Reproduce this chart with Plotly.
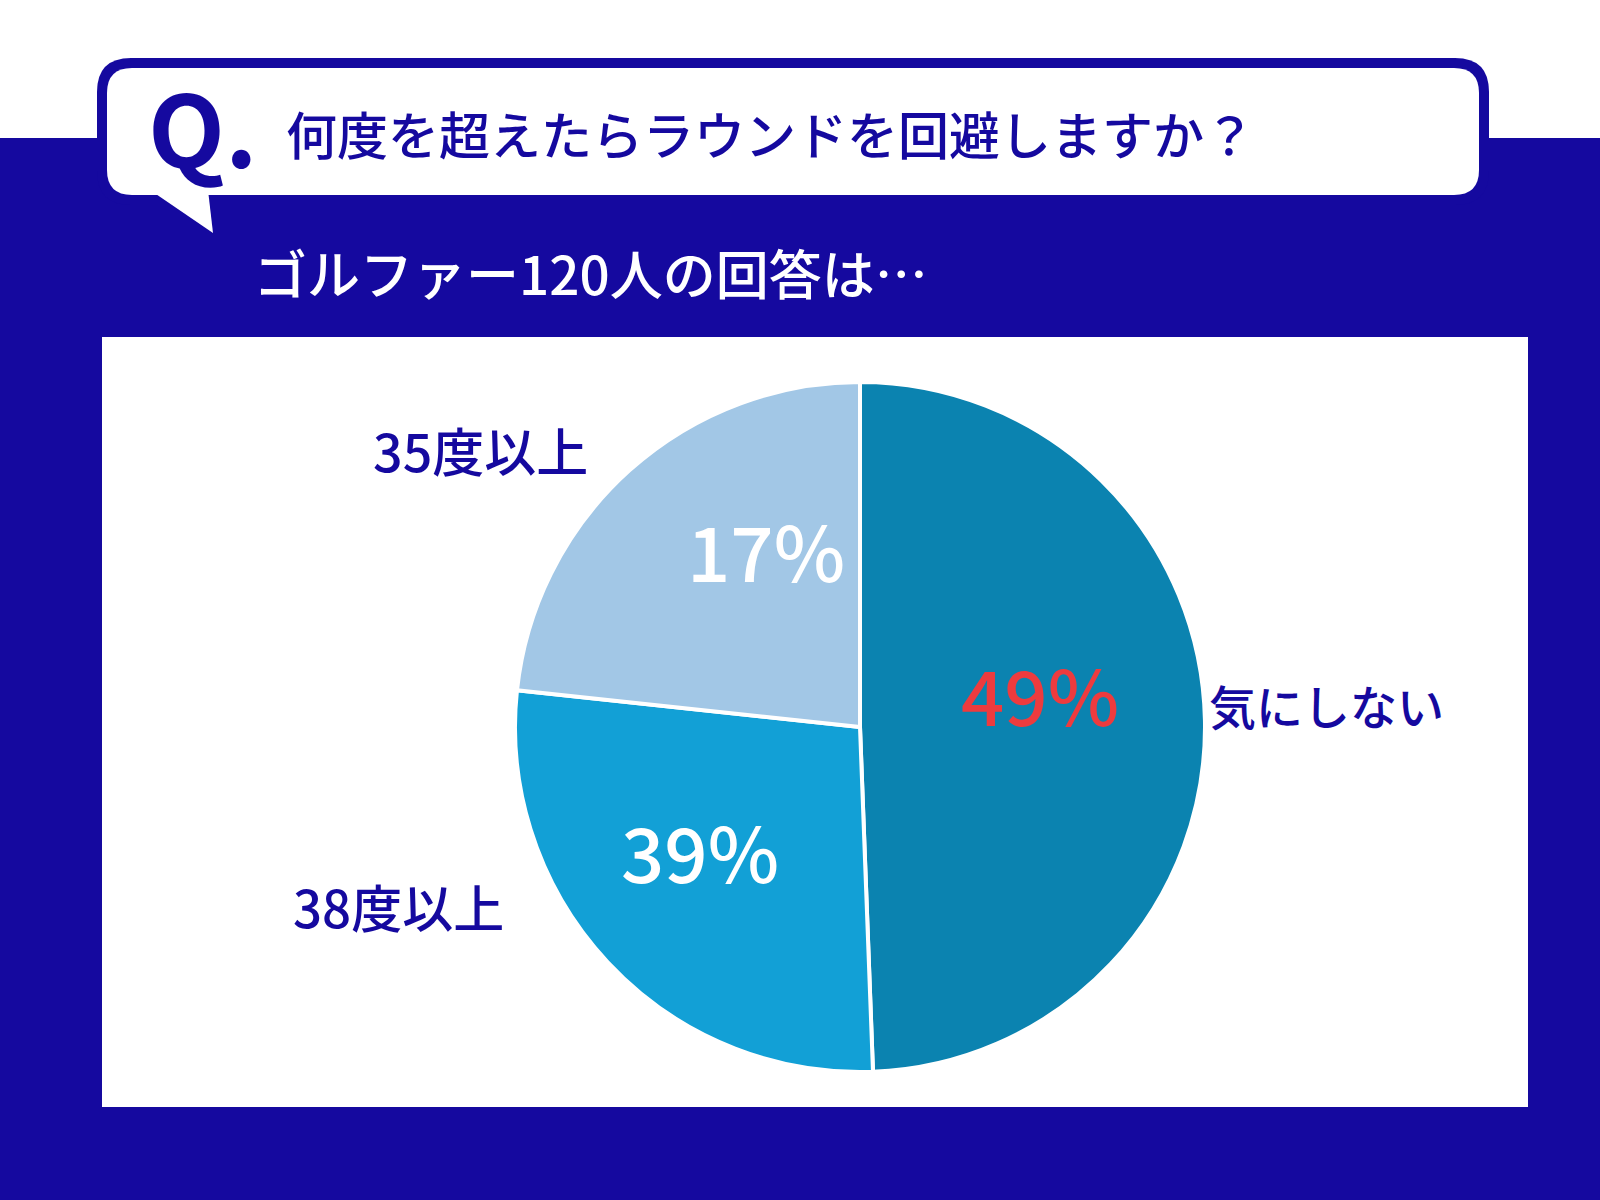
import plotly.graph_objects as go

# survey: "何度を超えたらラウンドを回避しますか？" (120 golfers)
categories = ["気にしない", "38度以上", "35度以上"]
shares = [49.4, 27.3, 23.3]          # slice sizes as drawn in the picture
pct_labels = ["49%", "39%", "17%"]   # percentages printed on the slices
slice_colors = ["#0B83B0", "#12A0D6", "#A2C7E6"]
pct_colors = ["#EE3B3E", "#FFFFFF", "#FFFFFF"]

question = "何度を超えたらラウンドを回避しますか？"
subtitle = "ゴルファー120人の回答は…"

NAVY = "#15099F"
FONT = "Noto Sans CJK JP"
W = 500

fig = go.Figure()

fig.add_trace(go.Pie(
    labels=categories,
    values=shares,
    textinfo="none",
    marker=dict(colors=slice_colors, line=dict(color="white", width=4)),
    sort=False,
    direction="clockwise",
    rotation=0,
    showlegend=False,
    hoverinfo="label+text",
    text=pct_labels,
    domain=dict(x=[(860 - 345) / 1600, (860 + 345) / 1600],
                y=[(473 - 345) / 1200, (473 + 345) / 1200]),
))


def rounded_rect(x0, y0, x1, y1, r):
    return (f"M {x0 + r},{y0} L {x1 - r},{y0} Q {x1},{y0} {x1},{y0 + r} "
            f"L {x1},{y1 - r} Q {x1},{y1} {x1 - r},{y1} "
            f"L {x0 + r},{y1} Q {x0},{y1} {x0},{y1 - r} "
            f"L {x0},{y0 + r} Q {x0},{y0} {x0 + r},{y0} Z")


shapes = [
    # navy background band
    dict(type="rect", x0=0, x1=1600, y0=138, y1=1200,
         fillcolor=NAVY, line_width=0, layer="below"),
    # speech bubble (border + body + tail)
    dict(type="path", path=rounded_rect(97, 58, 1489, 205, 34),
         fillcolor=NAVY, line_width=0, layer="below"),
    dict(type="path", path=rounded_rect(107, 68, 1479, 195, 25),
         fillcolor="white", line_width=0, layer="below"),
    dict(type="path", path="M 150,190 L 208,190 L 213,233 Z",
         fillcolor="white", line_width=0, layer="below"),
    # white chart panel
    dict(type="rect", x0=102, x1=1528, y0=337, y1=1107,
         fillcolor="white", line_width=0, layer="below"),
]

annotations = [
    dict(text="<b>Q.</b>", x=146, y=124, xanchor="left", yanchor="middle",
         font=dict(family=FONT, size=100, color=NAVY)),
    dict(text=question, x=284, y=133, xanchor="left", yanchor="middle",
         font=dict(family=FONT, size=51, color=NAVY, weight=W)),
    dict(text=subtitle, x=252, y=272, xanchor="left", yanchor="middle",
         font=dict(family=FONT, size=53, color="white", weight=W)),
]

label_pos = [(1326, 704), (398, 906), (480, 449)]
label_size = [47, 51, 52]
for name, (lx, ly), sz in zip(categories, label_pos, label_size):
    annotations.append(dict(text=name, x=lx, y=ly, xanchor="center", yanchor="middle",
                            font=dict(family=FONT, size=sz, color=NAVY, weight=W)))

pct_pos = [(1040, 693), (700, 850), (766, 549)]
for txt, col, (px, py) in zip(pct_labels, pct_colors, pct_pos):
    annotations.append(dict(text=txt, x=px, y=py, xanchor="center", yanchor="middle",
                            font=dict(family=FONT, size=76, color=col, weight=W)))

for a in annotations:
    a.update(xref="x", yref="y", showarrow=False)

fig.update_layout(
    width=1600, height=1200,
    margin=dict(l=0, r=0, t=0, b=0),
    paper_bgcolor="white",
    plot_bgcolor="rgba(0,0,0,0)",
    xaxis=dict(range=[0, 1600], visible=False, fixedrange=True),
    yaxis=dict(range=[1200, 0], visible=False, fixedrange=True),
    shapes=shapes,
    annotations=annotations,
    font=dict(family=FONT),
)

fig.write_html("out.html", config={"displayModeBar": False},
               post_script="document.body.style.margin='0px';")
